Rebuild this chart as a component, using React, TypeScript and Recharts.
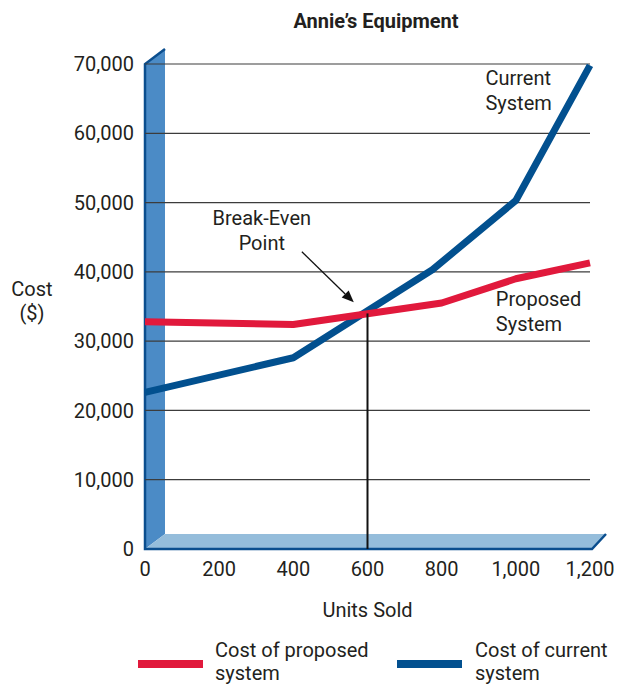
import React from "react";
import {
  LineChart,
  Line,
  XAxis,
  YAxis,
  ReferenceArea,
  ReferenceLine,
  ReferenceDot,
  Label,
} from "recharts";

const FONT = 'Roboto, "Liberation Sans", Arial, sans-serif';
const FS = 20;
const INK = "#231f20";
const RED = "#e1193c";
const BLUE = "#02508f";
const WALL = "#4b8bc6";
const FLOOR = "#95bddb";
const EDGE = "#0b4e8e";

// axis ticks
const xTicks = [0, 200, 400, 600, 800, 1000, 1200];
const yTicks = [0, 10000, 20000, 30000, 40000, 50000, 60000, 70000];

// cost of proposed system
const proposedUnits = [0, 400, 800, 1000, 1200];
const proposedCost = [32800, 32400, 35500, 39000, 41300];

// cost of current system
const currentUnits = [0, 400, 775, 1000, 1200];
const currentCost = [22600, 27600, 40300, 50300, 69800];

// break-even point and the arrow pointing at it
const breakEven = { units: 600, cost: 34000 };
const arrowFrom = { units: 423, cost: 42900 };
const arrowTo = { units: 563, cost: 35600 };

const proposedData = proposedUnits.map((x, i) => ({ x, proposed: proposedCost[i] }));
const currentData = currentUnits.map((x, i) => ({ x, current: currentCost[i] }));

const fmt = (v: number) => v.toLocaleString("en-US");

// 3d wall + floor behind the plot
function WallFloor(props: any) {
  const { x, y, width, height } = props;
  const b = y + height;
  const r = x + width;
  const dx = 20;
  const dy = 15;
  return (
    <g>
      <polygon points={`${x},${y} ${x + dx},${y - dy} ${x + dx},${b - dy} ${x},${b}`} fill={WALL} />
      <polygon points={`${x},${b} ${x + dx},${b - dy} ${r + 16},${b - dy} ${r + 2},${b}`} fill={FLOOR} />
      <polyline
        points={`${x + dx},${y - dy} ${x},${y} ${x},${b} ${r + 2},${b} ${r + 16},${b - dy}`}
        fill="none"
        stroke={EDGE}
        strokeWidth={2.5}
      />
    </g>
  );
}

function Arrow(props: any) {
  const { x1, y1, x2, y2 } = props;
  const ang = Math.atan2(y2 - y1, x2 - x1);
  const len = 12;
  const w = 5;
  const bx = x2 - len * Math.cos(ang);
  const by = y2 - len * Math.sin(ang);
  const px = -Math.sin(ang) * w;
  const py = Math.cos(ang) * w;
  return (
    <g>
      <line x1={x1} y1={y1} x2={bx} y2={by} stroke="#111" strokeWidth={1.3} />
      <polygon points={`${x2},${y2} ${bx + px},${by + py} ${bx - px},${by - py}`} fill="#111" />
    </g>
  );
}

const note = (lines: string[], anchor: "start" | "middle") => (props: any) => (
  <text x={props.cx} y={props.cy} textAnchor={anchor} fontFamily={FONT} fontSize={FS} fill={INK}>
    {lines.map((t, i) => (
      <tspan key={i} x={props.cx} dy={i === 0 ? 0 : 25}>
        {t}
      </tspan>
    ))}
  </text>
);

const tickStyle = { fill: INK, fontSize: FS, fontFamily: FONT };

export default function App() {
  return (
    <div style={{ position: "absolute", left: 0, top: 0, width: 618, height: 687, background: "#fff" }}>
      <div
        style={{
          position: "absolute",
          left: 0,
          width: 752,
          top: 9,
          textAlign: "center",
          fontFamily: FONT,
          fontWeight: "bold",
          fontSize: FS,
          color: INK,
          lineHeight: "24px",
        }}
      >
        Annie’s Equipment
      </div>
      <LineChart width={618} height={687} margin={{ top: 64, right: 28, left: 0, bottom: 98 }}>
        <XAxis
          type="number"
          dataKey="x"
          domain={[0, 1200]}
          ticks={xTicks}
          tickFormatter={fmt}
          axisLine={false}
          tickLine={false}
          tickSize={0}
          tickMargin={13}
          height={40}
          tick={tickStyle}
          interval={0}
        >
          <Label
            content={(p: any) => (
              <text
                x={p.viewBox.x + p.viewBox.width / 2}
                y={617}
                textAnchor="middle"
                fontFamily={FONT}
                fontSize={FS}
                fill={INK}
              >
                Units Sold
              </text>
            )}
          />
        </XAxis>
        <YAxis
          type="number"
          domain={[0, 70000]}
          ticks={yTicks}
          tickFormatter={fmt}
          axisLine={false}
          tickLine={false}
          tickSize={0}
          tickMargin={11}
          width={145}
          tick={tickStyle}
          interval={0}
        >
          <Label
            content={() => (
              <text x={32} y={296} textAnchor="middle" fontFamily={FONT} fontSize={FS} fill={INK}>
                <tspan x={32}>Cost</tspan>
                <tspan x={32} dy={24}>($)</tspan>
              </text>
            )}
          />
        </YAxis>
        <ReferenceArea x1={0} x2={1200} y1={0} y2={70000} shape={WallFloor} ifOverflow="visible" />
        {yTicks.slice(1).map((v) => (
          <ReferenceLine key={v} y={v} stroke="#3c3c3c" strokeWidth={1.2} />
        ))}
        <Line
          data={currentData}
          dataKey="current"
          stroke={BLUE}
          strokeWidth={7}
          dot={false}
          isAnimationActive={false}
          strokeLinejoin="round"
        />
        <Line
          data={proposedData}
          dataKey="proposed"
          stroke={RED}
          strokeWidth={7}
          dot={false}
          isAnimationActive={false}
          strokeLinejoin="round"
        />
        <ReferenceLine
          segment={[
            { x: breakEven.units, y: 0 },
            { x: breakEven.units, y: breakEven.cost },
          ]}
          stroke="#111"
          strokeWidth={2}
        />
        <ReferenceLine
          segment={[
            { x: arrowFrom.units, y: arrowFrom.cost },
            { x: arrowTo.units, y: arrowTo.cost },
          ]}
          shape={Arrow}
        />
        <ReferenceDot x={315} y={46800} r={0} shape={note(["Break-Even", "Point"], "middle")} />
        <ReferenceDot x={918} y={66900} r={0} shape={note(["Current", "System"], "start")} />
        <ReferenceDot x={946} y={35100} r={0} shape={note(["Proposed", "System"], "start")} />
      </LineChart>
      <div style={{ position: "absolute", left: 138, top: 660, width: 65, height: 8, background: RED }} />
      <div style={{ position: "absolute", left: 397, top: 660, width: 65, height: 8, background: BLUE }} />
      {[
        { left: 215, text: ["Cost of proposed", "system"] },
        { left: 475, text: ["Cost of current", "system"] },
      ].map((l) => (
        <div
          key={l.left}
          style={{
            position: "absolute",
            left: l.left,
            top: 639,
            fontFamily: FONT,
            fontSize: FS,
            lineHeight: "23px",
            color: INK,
            whiteSpace: "nowrap",
          }}
        >
          {l.text[0]}
          <br />
          {l.text[1]}
        </div>
      ))}
    </div>
  );
}
